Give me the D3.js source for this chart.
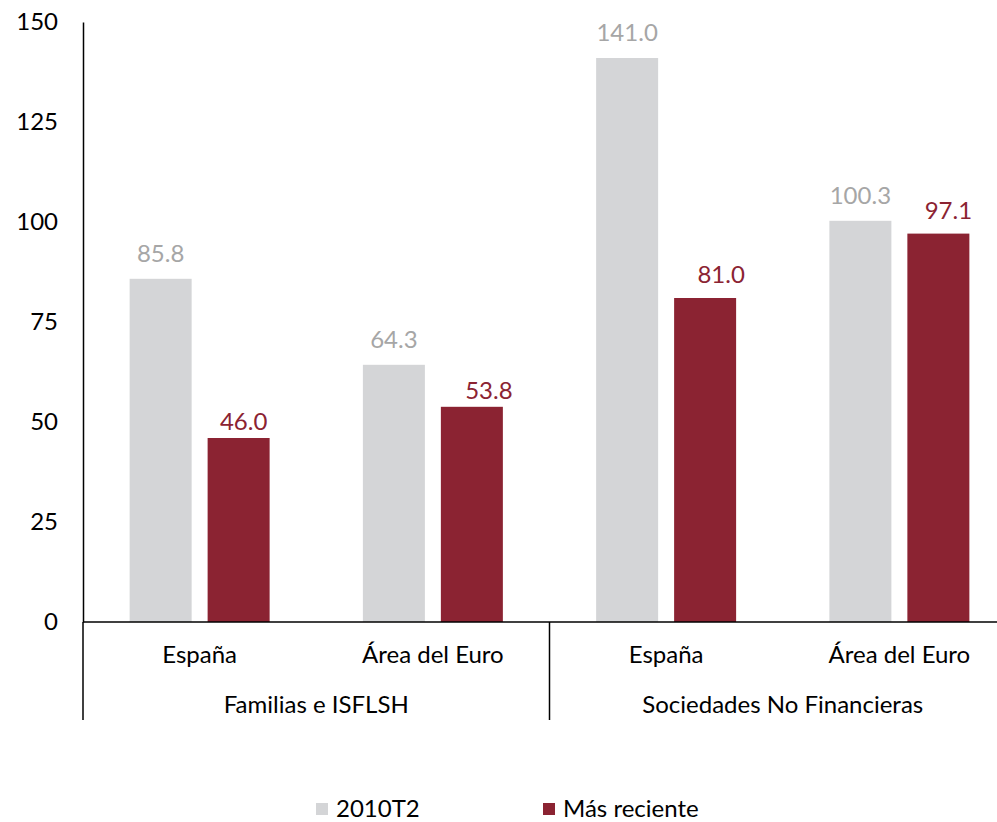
<!DOCTYPE html>
<html>
<head>
<meta charset="utf-8">
<script src="https://cdn.jsdelivr.net/npm/d3@7"></script>
<style>
  body { margin: 0; background: #fff; }
  text { font-family: Lato, "Open Sans", sans-serif; }
</style>
</head>
<body>
<svg id="chart" width="997" height="822"></svg>
<script>
// categories (sector / area)
var groups = ['Familias e ISFLSH', 'Sociedades No Financieras'];
var areas = ['España', 'Área del Euro', 'España', 'Área del Euro'];
var seriesNames = ['2010T2', 'Más reciente'];
var serie2010 = [85.8, 64.3, 141.0, 100.3];
var serieReciente = [46.0, 53.8, 81.0, 97.1];
var yTicks = [0, 25, 50, 75, 100, 125, 150];

var colors = ['#d4d5d7', '#8b2332'];
var labelColors = ['#a6a6a6', '#8b2332'];

var svg = d3.select('#chart');
var plotLeft = 83, plotRight = 1016, plotTop = 22, plotBottom = 622;
var fs = '24px';

// the red value labels were hand-placed in the original (dx, gap above bar)
var redNudge = [[5, 8], [17, 8], [16, 15], [10, 15]];

var x = d3.scaleBand()
    .domain(d3.range(areas.length))
    .range([plotLeft, plotRight])
    .paddingInner(0)
    .paddingOuter(0);

var xs = d3.scaleBand()
    .domain([0, 1])
    .range([0, x.bandwidth()])
    .paddingInner(0.205)
    .paddingOuter(0.598);

var y = d3.scaleLinear().domain([0, 150]).range([plotBottom, plotTop]);

// y axis
var yAxis = d3.axisLeft(y).tickValues(yTicks).tickSize(0).tickPadding(25);
var gy = svg.append('g').attr('transform', 'translate(' + plotLeft + ',0)').call(yAxis);
gy.select('.domain').attr('stroke', '#000').attr('stroke-width', 1.5);
gy.selectAll('text').style('font-size', fs).attr('fill', '#000')
    .style('font-family', 'Lato, sans-serif');

// bars
var rows = [];
for (var i = 0; i < areas.length; i++) {
    rows.push({ i: i, s: 0, v: serie2010[i] });
    rows.push({ i: i, s: 1, v: serieReciente[i] });
}

svg.selectAll('.bar')
    .data(rows)
    .enter()
    .append('rect')
    .attr('class', 'bar')
    .attr('x', function (d) { return x(d.i) + xs(d.s); })
    .attr('width', xs.bandwidth())
    .attr('y', function (d) { return y(d.v); })
    .attr('height', function (d) { return y(0) - y(d.v); })
    .attr('fill', function (d) { return colors[d.s]; });

svg.selectAll('.vlabel')
    .data(rows)
    .enter()
    .append('text')
    .attr('class', 'vlabel')
    .attr('x', function (d) {
        var dx = d.s === 1 ? redNudge[d.i][0] : 0;
        return x(d.i) + xs(d.s) + xs.bandwidth() / 2 + dx;
    })
    .attr('y', function (d) {
        var gap = d.s === 1 ? redNudge[d.i][1] : 17;
        return y(d.v) - gap;
    })
    .attr('text-anchor', 'middle')
    .style('font-size', fs)
    .attr('fill', function (d) { return labelColors[d.s]; })
    .text(function (d) { return d.v.toFixed(1); });

// baseline
svg.append('line')
    .attr('x1', plotLeft).attr('x2', 997)
    .attr('y1', y(0)).attr('y2', y(0))
    .attr('stroke', '#000').attr('stroke-width', 1.5);

// category labels
svg.selectAll('.cat')
    .data(areas)
    .enter()
    .append('text')
    .attr('class', 'cat')
    .attr('x', function (d, i) { return x(i) + x.bandwidth() / 2; })
    .attr('y', 663)
    .attr('text-anchor', 'middle')
    .style('font-size', fs)
    .attr('fill', '#000')
    .text(function (d) { return d; });

// group labels + separators
svg.selectAll('.grp')
    .data(groups)
    .enter()
    .append('text')
    .attr('class', 'grp')
    .attr('x', function (d, g) { return x(g * 2) + x.bandwidth(); })
    .attr('y', 713)
    .attr('text-anchor', 'middle')
    .style('font-size', fs)
    .attr('fill', '#000')
    .text(function (d) { return d; });

svg.selectAll('.sep')
    .data([0, 2])
    .enter()
    .append('line')
    .attr('class', 'sep')
    .attr('x1', function (d) { return x(d); })
    .attr('x2', function (d) { return x(d); })
    .attr('y1', y(0))
    .attr('y2', 720)
    .attr('stroke', '#000').attr('stroke-width', 1.5);

// legend
var legendX = [316, 543];
var legend = svg.selectAll('.leg')
    .data(seriesNames)
    .enter()
    .append('g')
    .attr('class', 'leg')
    .attr('transform', function (d, i) { return 'translate(' + legendX[i] + ',803)'; });

legend.append('rect')
    .attr('width', 12).attr('height', 12)
    .attr('fill', function (d, i) { return colors[i]; });

legend.append('text')
    .attr('x', 20).attr('y', 14)
    .style('font-size', fs)
    .attr('fill', '#000')
    .text(function (d) { return d; });
</script>
</body>
</html>
